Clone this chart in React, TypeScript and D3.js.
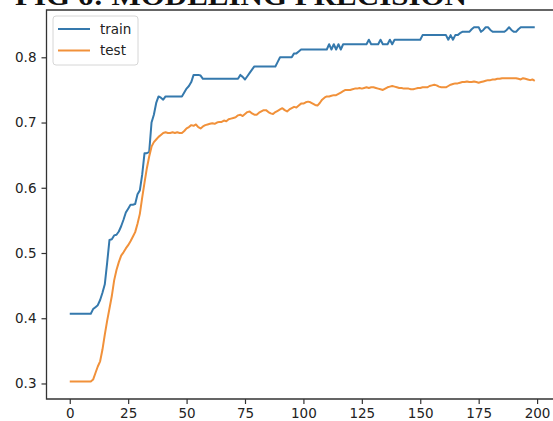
import React, { useEffect, useRef } from "react";
import * as d3 from "d3";

// precision per epoch
const train = [
  0.407, 0.407, 0.407, 0.407, 0.407, 0.407, 0.407, 0.407, 0.407, 0.407,
  0.414, 0.417, 0.420, 0.428, 0.439, 0.452, 0.485, 0.520, 0.521, 0.527,
  0.528, 0.533, 0.541, 0.551, 0.562, 0.568, 0.574, 0.574, 0.575, 0.590,
  0.596, 0.620, 0.653, 0.653, 0.655, 0.700, 0.712, 0.730, 0.740, 0.738,
  0.735, 0.740, 0.740, 0.740, 0.740, 0.740, 0.740, 0.740, 0.740, 0.746,
  0.752, 0.756, 0.762, 0.773, 0.773, 0.773, 0.772, 0.767, 0.767, 0.767,
  0.767, 0.767, 0.767, 0.767, 0.767, 0.767, 0.767, 0.767, 0.767, 0.767,
  0.767, 0.767, 0.767, 0.773, 0.770, 0.766, 0.771, 0.776, 0.781, 0.786,
  0.786, 0.786, 0.786, 0.786, 0.786, 0.786, 0.786, 0.786, 0.786, 0.793,
  0.800, 0.800, 0.800, 0.800, 0.800, 0.800, 0.806, 0.806, 0.809, 0.812,
  0.812, 0.812, 0.812, 0.812, 0.812, 0.812, 0.812, 0.812, 0.812, 0.812,
  0.812, 0.820, 0.812, 0.820, 0.812, 0.820, 0.812, 0.820, 0.820, 0.820,
  0.820, 0.820, 0.820, 0.820, 0.820, 0.820, 0.820, 0.820, 0.827, 0.820,
  0.820, 0.820, 0.820, 0.827, 0.820, 0.820, 0.820, 0.827, 0.820, 0.827,
  0.827, 0.827, 0.827, 0.827, 0.827, 0.827, 0.827, 0.827, 0.827, 0.827,
  0.827, 0.834, 0.834, 0.834, 0.834, 0.834, 0.834, 0.834, 0.834, 0.834,
  0.834, 0.834, 0.827, 0.834, 0.827, 0.834, 0.834, 0.837, 0.839, 0.839,
  0.839, 0.839, 0.843, 0.846, 0.846, 0.846, 0.839, 0.842, 0.846, 0.846,
  0.842, 0.839, 0.839, 0.839, 0.839, 0.839, 0.839, 0.842, 0.846, 0.842,
  0.839, 0.839, 0.843, 0.846, 0.846, 0.846, 0.846, 0.846, 0.846, 0.846,
];

const test = [
  0.303, 0.303, 0.303, 0.303, 0.303, 0.303, 0.303, 0.303, 0.303, 0.303,
  0.306, 0.316, 0.326, 0.334, 0.352, 0.375, 0.396, 0.415, 0.434, 0.458,
  0.474, 0.486, 0.496, 0.501, 0.507, 0.512, 0.518, 0.525, 0.532, 0.545,
  0.560, 0.585, 0.608, 0.630, 0.648, 0.663, 0.670, 0.674, 0.678, 0.681,
  0.684, 0.685, 0.684, 0.684, 0.685, 0.684, 0.685, 0.684, 0.684, 0.687,
  0.691, 0.693, 0.696, 0.695, 0.697, 0.693, 0.691, 0.694, 0.696, 0.697,
  0.698, 0.699, 0.698, 0.700, 0.701, 0.701, 0.703, 0.702, 0.705, 0.706,
  0.707, 0.708, 0.711, 0.712, 0.710, 0.713, 0.716, 0.717, 0.714, 0.712,
  0.712, 0.715, 0.717, 0.719, 0.719, 0.716, 0.714, 0.713, 0.716, 0.718,
  0.720, 0.722, 0.719, 0.717, 0.720, 0.722, 0.724, 0.723, 0.726, 0.729,
  0.729, 0.731, 0.732, 0.731, 0.729, 0.727, 0.726, 0.730, 0.735, 0.738,
  0.740, 0.740, 0.741, 0.742, 0.742, 0.744, 0.746, 0.748, 0.750, 0.750,
  0.750, 0.751, 0.752, 0.752, 0.753, 0.752, 0.753, 0.754, 0.753, 0.754,
  0.754, 0.753, 0.752, 0.751, 0.750, 0.752, 0.754, 0.755, 0.756, 0.755,
  0.754, 0.753, 0.753, 0.752, 0.752, 0.752, 0.751, 0.751, 0.752, 0.753,
  0.753, 0.754, 0.754, 0.754, 0.756, 0.757, 0.758, 0.757, 0.755, 0.754,
  0.754, 0.754, 0.756, 0.758, 0.759, 0.760, 0.760, 0.761, 0.762, 0.762,
  0.763, 0.762, 0.762, 0.763, 0.762, 0.761, 0.762, 0.763, 0.764, 0.765,
  0.765, 0.766, 0.766, 0.767, 0.767, 0.768, 0.768, 0.768, 0.768, 0.768,
  0.768, 0.768, 0.767, 0.766, 0.768, 0.767, 0.766, 0.765, 0.766, 0.764,
];

const xTicks = [0, 25, 50, 75, 100, 125, 150, 175, 200];
const yTicks = [0.3, 0.4, 0.5, 0.6, 0.7, 0.8];
const seriesNames = ["train", "test"];
const colors = ["#3579ad", "#f1913a"];

const W = 553,
  H = 421;

export default function App() {
  const ref = useRef<SVGSVGElement>(null);

  useEffect(() => {
    const svg = d3.select(ref.current);
    svg.selectAll("*").remove();

    const left = 46.5,
      right = 558,
      top = 10,
      bottom = 399;

    const x = d3.scaleLinear().domain([-9.95, 208.95]).range([left, right]);
    const y = d3.scaleLinear().domain([0.2762, 0.8725]).range([bottom, top]);

    svg
      .append("rect")
      .attr("width", W)
      .attr("height", H)
      .attr("fill", "#fff");

    // title, mostly cut off at the top of the picture
    svg
      .append("text")
      .attr("x", 15)
      .attr("y", 5)
      .attr("font-family", "'Liberation Serif', serif")
      .attr("font-weight", "bold")
      .attr("font-size", 27)
      .attr("textLength", 452)
      .attr("lengthAdjust", "spacingAndGlyphs")
      .attr("fill", "#111")
      .text("FIG 6: MODELING PRECISION");

    const line = d3
      .line<number>()
      .x((d, i) => x(i))
      .y((d) => y(d));

    [train, test].forEach((s, k) => {
      svg
        .append("path")
        .datum(s)
        .attr("d", line)
        .attr("fill", "none")
        .attr("stroke", colors[k])
        .attr("stroke-width", 2)
        .attr("stroke-linejoin", "round");
    });

    const axisFont = "'DejaVu Sans', sans-serif";

    const gx = svg
      .append("g")
      .attr("transform", `translate(0,${bottom})`)
      .call(d3.axisBottom(x).tickValues(xTicks).tickSize(5).tickPadding(4.5).tickFormat(d3.format("d")));
    const gy = svg
      .append("g")
      .attr("transform", `translate(${left},0)`)
      .call(d3.axisLeft(y).tickValues(yTicks).tickSize(5).tickPadding(5).tickFormat(d3.format(".1f")));

    [gx, gy].forEach((g) => {
      g.select(".domain").remove();
      g.selectAll("line").attr("stroke", "#333").attr("stroke-width", 1.2);
      g.selectAll("text")
        .attr("font-family", axisFont)
        .attr("font-size", 13.5)
        .attr("fill", "#222");
    });

    // spines: left, bottom, top (right one is outside the picture)
    svg
      .append("path")
      .attr("d", `M${right},${top}H${left}V${bottom}H${right}`)
      .attr("fill", "none")
      .attr("stroke", "#333")
      .attr("stroke-width", 1.3);

    // legend
    const lg = svg.append("g");
    lg.append("rect")
      .attr("x", 53)
      .attr("y", 16)
      .attr("width", 85)
      .attr("height", 49)
      .attr("rx", 3)
      .attr("fill", "#fff")
      .attr("fill-opacity", 0.8)
      .attr("stroke", "#d6d6d6");
    seriesNames.forEach((name, k) => {
      const ly = 29 + k * 21.5;
      lg.append("line")
        .attr("x1", 58)
        .attr("x2", 90)
        .attr("y1", ly)
        .attr("y2", ly)
        .attr("stroke", colors[k])
        .attr("stroke-width", 2);
      lg.append("text")
        .attr("x", 100)
        .attr("y", ly)
        .attr("dy", "0.35em")
        .attr("font-family", axisFont)
        .attr("font-size", 13.5)
        .attr("fill", "#222")
        .text(name);
    });
  }, []);

  return (
    <svg
      ref={ref}
      width={W}
      height={H}
      style={{ position: "absolute", left: 0, top: 0 }}
    />
  );
}
